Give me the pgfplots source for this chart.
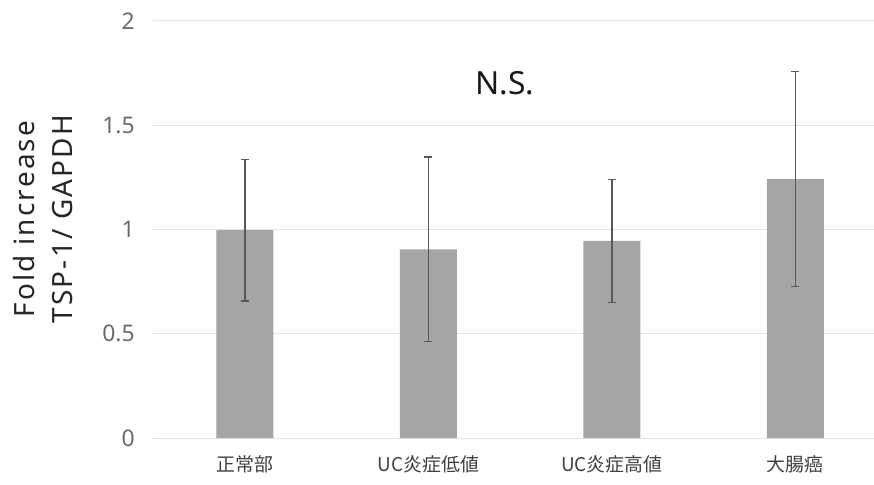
\documentclass[border=0pt]{standalone}
\usepackage{pgfplots}
\pgfplotsset{compat=1.18}
\usepackage{pgfplotstable}
\usepackage{fontspec}
\setmainfont{Noto Sans}
\newfontfamily\cjk{Noto Sans CJK JP}
\newfontfamily\lblfont[LetterSpace=8]{Noto Sans}
\definecolor{barfill}{HTML}{A5A5A5}
\definecolor{errc}{HTML}{595959}
\definecolor{gridc}{HTML}{E3E3E3}
\definecolor{tickc}{HTML}{6B6B6B}
\definecolor{catc}{HTML}{404040}
\pgfplotstableread{
x y err
0 0.997 0.340
1 0.905 0.443
2 0.946 0.295
3 1.242 0.516
}\datatable
\begin{document}
\begin{tikzpicture}
\path[use as bounding box] (0,0) rectangle (874bp,485bp);
\begin{axis}[
  at={(153.25bp,47bp)}, anchor=south west,
  scale only axis, width=721bp, height=417bp,
  xmin=-0.5, xmax=3.43, ymin=0, ymax=2,
  xtick={0,1,2,3},
  xticklabels={正常部, UC炎症低値, UC炎症高値, 大腸癌},
  ytick={0,0.5,1,1.5,2},
  yticklabels={0,0.5,1,1.5,2},
  axis line style={draw=none},
  major tick length=0pt,
  ymajorgrids,
  grid style={draw=gridc, line width=1bp},
  xticklabel style={font=\cjk\fontsize{19}{19}\selectfont, text=catc, yshift=-14bp},
  yticklabel style={font=\fontsize{23}{23}\selectfont, text=tickc, xshift=-15bp},
  ylabel={Fold increase\\TSP-1/ GAPDH},
  ylabel style={font=\lblfont\fontsize{28}{38}\selectfont, align=center, text=black!85,
    at={(axis description cs:-0.153,0.525)}, anchor=center},
  clip=false,
]
\addplot[ybar, bar width=57bp, fill=barfill, draw=none,
  error bars/.cd, y dir=both, y explicit,
  error bar style={line width=1.2bp, color=errc, solid},
  error mark options={rotate=90, line width=1.2bp, color=errc, mark size=4bp}]
  table[x=x, y=y, y error=err] {\datatable};
\node[font=\fontsize{32}{32}\selectfont, text=black!90] at (axis cs:1.417,1.703) {N.S.};
\end{axis}
\end{tikzpicture}
\end{document}
